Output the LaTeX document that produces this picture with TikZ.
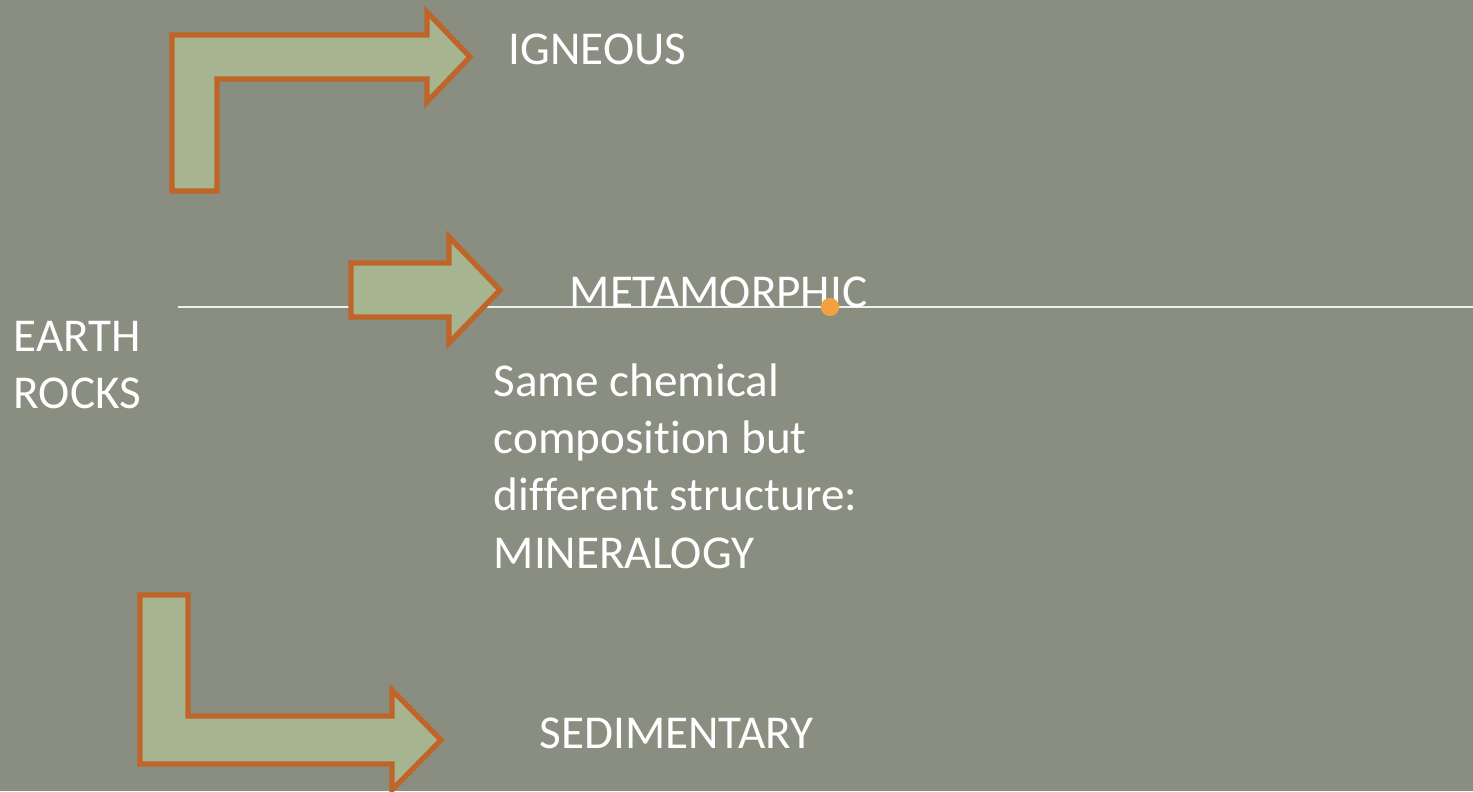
\documentclass[tikz,border=0pt]{standalone}
\usepackage{fontspec}
\setmainfont{Carlito}[Ligatures=NoCommon]
\usepackage{tikz}
\usepackage{xcolor}
\definecolor{slate}{HTML}{8A8E80}
\definecolor{sage}{HTML}{A6B48F}
\definecolor{rust}{HTML}{C0652A}
\definecolor{handle}{HTML}{F2A040}

\begin{document}
\begin{tikzpicture}[x=0.01cm,y=-0.01cm,line join=miter,
  blockarrow/.style={fill=sage,draw=rust,line width=1.5pt},
  rocktext/.style={text=white,inner sep=0pt,anchor=base west,align=left,
    font=\fontsize{13.4}{16}\selectfont}]
\fill[slate] (0,0) rectangle (1473,791);
\useasboundingbox (0,0) rectangle (1473,791);
\coordinate (lineL) at (178,307);
\coordinate (lineR) at (1473,307);
\draw[white!88!gray,line width=0.7pt] (lineL) -- (lineR);
\draw[blockarrow] (172,191) -- (172,35) -- (427,35) -- (427,12) -- (470,57) -- (427,102) -- (427,79) -- (217,79) -- (217,191) -- cycle;
\draw[blockarrow] (351,263) -- (449,263) -- (449,237) -- (500,290) -- (449,343) -- (449,317) -- (351,317) -- cycle;
\draw[blockarrow] (140,595) -- (188,595) -- (188,716) -- (392,716) -- (392,690) -- (441,740) -- (392,790) -- (392,764) -- (140,764) -- cycle;
\node[rocktext] (igneous) at (508,65) {IGNEOUS};
\node[rocktext] (metamorphic) at (569,307) {METAMORPHIC};
\node[rocktext] (sedimentary) at (539,748) {SEDIMENTARY};
\node[rocktext] (earth) at (13,408) {EARTH\\ROCKS};
\node[rocktext,font=\fontsize{13.4}{16.3}\selectfont] (mineralogy) at (493,568) {Same chemical\\composition but\\different structure:\\MINERALOGY};
\fill[handle] (830,307) circle (2.6pt);
\end{tikzpicture}
\end{document}
